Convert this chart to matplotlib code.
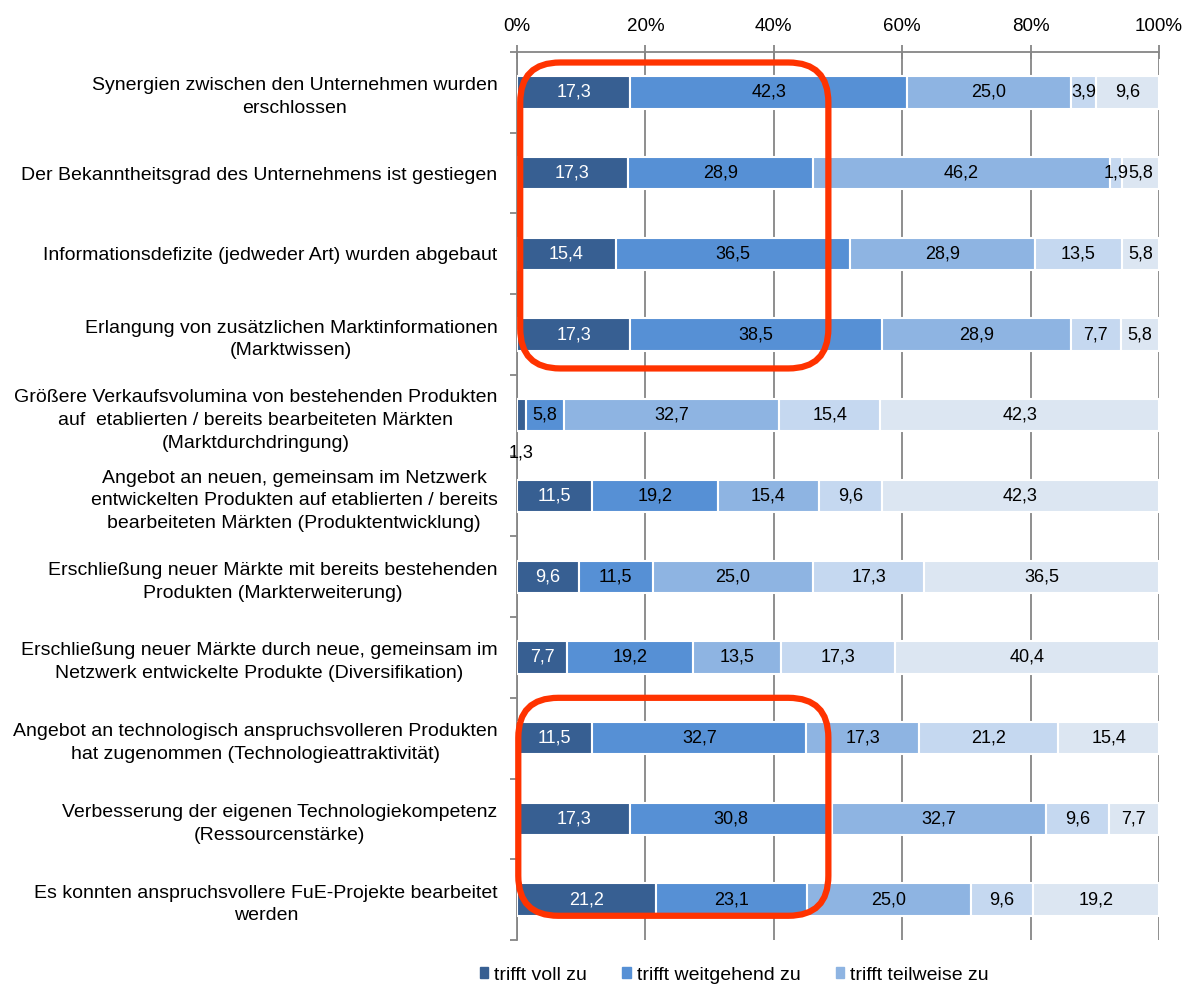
import numpy as np
import matplotlib
matplotlib.use("Agg")
import matplotlib.pyplot as plt
from matplotlib.patches import FancyBboxPatch, Patch

plt.rcParams['font.family'] = ['Liberation Sans', 'DejaVu Sans']

categories = [
    "Synergien zwischen den Unternehmen wurden\nerschlossen",
    "Der Bekanntheitsgrad des Unternehmens ist gestiegen",
    "Informationsdefizite (jedweder Art) wurden abgebaut",
    "Erlangung von zusätzlichen Marktinformationen\n(Marktwissen)",
    "Größere Verkaufsvolumina von bestehenden Produkten\nauf  etablierten / bereits bearbeiteten Märkten\n(Marktdurchdringung)",
    "Angebot an neuen, gemeinsam im Netzwerk\nentwickelten Produkten auf etablierten / bereits\nbearbeiteten Märkten (Produktentwicklung)",
    "Erschließung neuer Märkte mit bereits bestehenden\nProdukten (Markterweiterung)",
    "Erschließung neuer Märkte durch neue, gemeinsam im\nNetzwerk entwickelte Produkte (Diversifikation)",
    "Angebot an technologisch anspruchsvolleren Produkten\nhat zugenommen (Technologieattraktivität)",
    "Verbesserung der eigenen Technologiekompetenz\n(Ressourcenstärke)",
    "Es konnten anspruchsvollere FuE-Projekte bearbeitet\nwerden",
]

series_names = ["trifft voll zu", "trifft weitgehend zu", "trifft teilweise zu",
                "trifft eher nicht zu", "trifft nicht zu"]

voll        = [17.3, 17.3, 15.4, 17.3, 1.3, 11.5, 9.6, 7.7, 11.5, 17.3, 21.2]
weitgehend  = [42.3, 28.9, 36.5, 38.5, 5.8, 19.2, 11.5, 19.2, 32.7, 30.8, 23.1]
teilweise   = [25.0, 46.2, 28.9, 28.9, 32.7, 15.4, 25.0, 13.5, 17.3, 32.7, 25.0]
eher_nicht  = [3.9, 1.9, 13.5, 7.7, 15.4, 9.6, 17.3, 17.3, 21.2, 9.6, 9.6]
nicht       = [9.6, 5.8, 5.8, 5.8, 42.3, 42.3, 36.5, 40.4, 15.4, 7.7, 19.2]

colors = ["#375f92", "#5690d5", "#8eb4e2", "#c5d8f0", "#dce6f2"]
text_colors = ["white", "black", "black", "black", "black"]

# highlight boxes (x in %, y in category units)
boxes = [(0.5, -0.37, 48.0, 3.79), (0.2, 7.5, 48.3, 2.7)]

data = np.array([voll, weitgehend, teilweise, eher_nicht, nicht])
pct = data / data.sum(axis=0) * 100

fig = plt.figure(figsize=(11.9, 9.88), dpi=100)
ax = fig.add_axes([517 / 1190, 1 - 940 / 988, 642 / 1190, 888 / 988])

y = np.arange(len(categories))
left = np.zeros(len(categories))
for i in range(5):
    ax.barh(y, pct[i], left=left, height=0.4, color=colors[i],
            edgecolor="white", linewidth=1.5, zorder=3, label=series_names[i])
    for j in range(len(categories)):
        lbl = f"{data[i, j]:.1f}".replace(".", ",")
        if data[i, j] < 1.5:
            ax.text(left[j] + pct[i, j] / 2, y[j] + 0.47, lbl, ha="center", va="center",
                    fontsize=13, color="black", zorder=5)
        else:
            ax.text(left[j] + pct[i, j] / 2, y[j], lbl, ha="center", va="center",
                    fontsize=13, color=text_colors[i], zorder=5)
    left += pct[i]

ax.set_xlim(0, 100)
ax.set_ylim(len(categories) - 0.5, -0.5)
ax.xaxis.tick_top()
ax.set_xticks([0, 20, 40, 60, 80, 100])
ax.set_xticklabels(["0%", "20%", "40%", "60%", "80%", "100%"], fontsize=13.5)
ax.tick_params(axis="x", direction="inout", length=10, width=1.3, color="#868686", pad=7)
ax.grid(axis="x", color="#868686", linewidth=1.3, zorder=0)
ax.set_yticks(y)
ax.set_yticklabels(categories, fontsize=14, linespacing=1.45, multialignment="center")
ax.set_yticks(np.arange(len(categories) + 1) - 0.5, minor=True)
ax.tick_params(axis="y", which="major", length=0, pad=14)
ax.tick_params(axis="y", which="minor", length=5, width=1.3, color="#868686")
for s in ["right", "bottom"]:
    ax.spines[s].set_visible(False)
ax.spines["top"].set_color("#868686")
ax.spines["top"].set_linewidth(1.3)
ax.spines["left"].set_color("#868686")
ax.spines["left"].set_linewidth(1.3)

# rounded red frames
x_per_px = 100 / 642
y_per_px = 1 / 80.7
for bx, by, bw, bh in boxes:
    r = 40 * x_per_px
    p = FancyBboxPatch((bx, by), bw, bh,
                       boxstyle=f"round,pad=0,rounding_size={r}",
                       mutation_aspect=y_per_px / x_per_px,
                       fill=False, edgecolor="#ff3300", linewidth=4.5,
                       zorder=6, clip_on=False)
    ax.add_patch(p)

handles = [Patch(color=colors[i]) for i in range(3)]
fig.legend(handles, series_names[:3], ncol=3, loc="center",
           bbox_to_anchor=(0.617, 1 - 975 / 988), frameon=False, fontsize=14,
           handlelength=0.45, handleheight=0.55, handletextpad=0.3, columnspacing=1.8,
           borderpad=0.1)

fig.savefig("out.png", dpi=100)
